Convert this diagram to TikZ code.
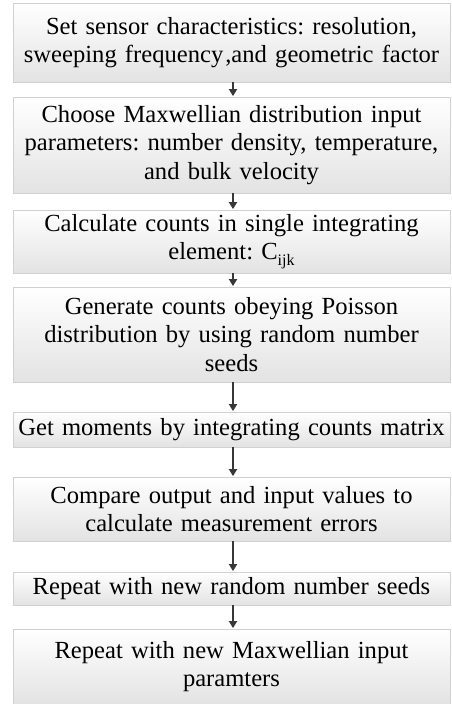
\documentclass[tikz,border=0pt]{standalone}
\usepackage{fontspec}
\setmainfont{Liberation Serif}
\usetikzlibrary{arrows.meta}
\frenchspacing
\tikzset{
  stepbox/.style={draw=black!18, line width=0.8pt, top color=white, bottom color=black!11,
    minimum width=437pt, text width=437pt, align=center, inner sep=0pt,
    font=\fontsize{24.6}{28.5}\selectfont},
  flow/.style={draw=black!78, line width=1.8pt, -{Triangle[length=7pt,width=8pt]}, shorten >=0.5pt}
}
\begin{document}
\begin{tikzpicture}[x=1pt,y=1pt]
\useasboundingbox (0,0) rectangle (451,-704);
\node[stepbox, minimum height=79pt] (b1) at (231.5,-42.5)
  {Set sensor characteristics: resolution,\\sweeping frequency{\kern2pt},and geometric factor};
\node[stepbox, minimum height=96pt] (b2) at (231.5,-145)
  {Choose Maxwellian distribution input\\parameters: number density, temperature,\\and bulk velocity};
\node[stepbox, minimum height=63pt] (b3) at (231.5,-241.5)
  {Calculate counts in single integrating\\element: C\raisebox{-0.25em}{\fontsize{16}{16}\selectfont ijk}};
\node[stepbox, minimum height=95pt] (b4) at (231.5,-334.5)
  {Generate counts obeying Poisson\\distribution by using random number\\seeds};
\node[stepbox, minimum height=35pt] (b5) at (231.5,-429.5)
  {Get moments by integrating counts matrix};
\node[stepbox, minimum height=64pt] (b6) at (231.5,-509)
  {Compare output and input values to\\calculate measurement errors};
\node[stepbox, minimum height=33pt] (b7) at (231.5,-588.5)
  {Repeat with new random number seeds};
\node[stepbox, minimum height=75pt] (b8) at (231.5,-666.5)
  {Repeat with new Maxwellian input\\paramters};
\draw[flow] (b1.south -| 233,0) -- (b2.north -| 233,0);
\draw[flow] (b2.south -| 233,0) -- (b3.north -| 233,0);
\draw[flow] (b3.south -| 233,0) -- (b4.north -| 233,0);
\draw[flow] (b4.south -| 233,0) -- (b5.north -| 233,0);
\draw[flow] (b5.south -| 233,0) -- (b6.north -| 233,0);
\draw[flow] (b6.south -| 233,0) -- (b7.north -| 233,0);
\draw[flow] (b7.south -| 233,0) -- (b8.north -| 233,0);
\end{tikzpicture}
\end{document}
